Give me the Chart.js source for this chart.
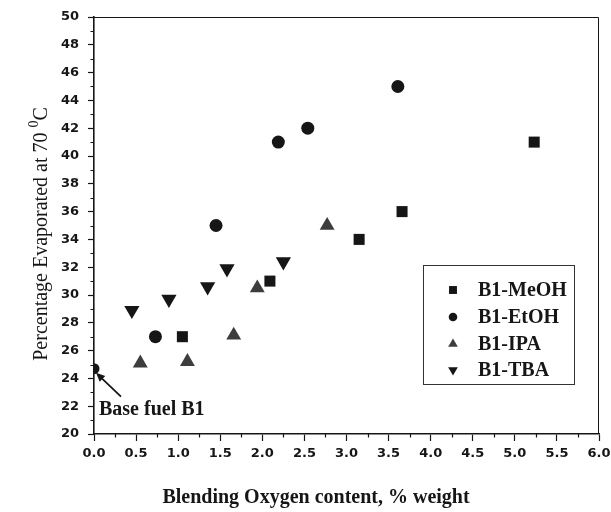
<!DOCTYPE html>
<html>
<head>
<meta charset="utf-8">
<script src="https://cdn.jsdelivr.net/npm/chart.js@4.4.1/dist/chart.umd.min.js"></script>
<style>
  html, body { margin: 0; padding: 0; background: #fff; }
  #chart { display: block; }
</style>
</head>
<body>
<canvas id="chart" width="611" height="512"></canvas>
<script>
// values
const seriesNames = ['B1-MeOH', 'B1-EtOH', 'B1-IPA', 'B1-TBA'];

const meohX = [1.05, 2.09, 3.15, 3.66, 5.23];
const meohY = [27.0, 31.0, 34.0, 36.0, 41.0];

const etohX = [0.73, 1.45, 2.19, 2.54, 3.61];
const etohY = [27.0, 35.0, 41.0, 42.0, 45.0];

const ipaX = [0.55, 1.11, 1.66, 1.94, 2.77];
const ipaY = [25.1, 25.2, 27.1, 30.5, 35.0];

const tbaX = [0.45, 0.89, 1.35, 1.58, 2.25];
const tbaY = [28.9, 29.7, 30.6, 31.9, 32.4];

const baseX = [0.0];
const baseY = [24.7];
const baseLabel = 'Base fuel B1';

const xTitle = 'Blending Oxygen content, % weight';
const yTitle = 'Percentage Evaporated at 70 ';
const yTitleSup = '0';
const yTitleEnd = 'C';

function toPoints(xs, ys) {
    return xs.map((x, i) => ({ x: x, y: ys[i] }));
}

const ink = '#161616';
const tickFont = { family: '"DejaVu Sans", sans-serif', size: 13, weight: 'bold' };

function drawMarker(ctx, style, radius, rotation, x, y) {
    if (Chart.helpers && Chart.helpers.drawPoint) {
        Chart.helpers.drawPoint(ctx, { pointStyle: style, radius: radius, rotation: rotation, borderWidth: 0 }, x, y);
    }
}

// frame, minor ticks, titles, legend box and the base fuel note
const decorPlugin = {
    id: 'decor',
    afterDraw(chart) {
        const ctx = chart.ctx;
        const area = chart.chartArea;
        const xs = chart.scales.x;
        const ys = chart.scales.y;
        ctx.save();

        // top and right frame
        ctx.strokeStyle = ink;
        ctx.lineWidth = 1;
        ctx.beginPath();
        ctx.moveTo(area.left, area.top + 0.5);
        ctx.lineTo(area.right - 0.5, area.top + 0.5);
        ctx.lineTo(area.right - 0.5, area.bottom);
        ctx.stroke();

        // minor ticks
        ctx.lineWidth = 1.2;
        ctx.beginPath();
        for (let v = 0.25; v < 6; v += 0.5) {
            const px = Math.round(xs.getPixelForValue(v)) + 0.5;
            ctx.moveTo(px, area.bottom);
            ctx.lineTo(px, area.bottom + 3.5);
        }
        for (let v = 21; v < 50; v += 2) {
            const py = Math.round(ys.getPixelForValue(v)) + 0.5;
            ctx.moveTo(area.left, py);
            ctx.lineTo(area.left - 3.5, py);
        }
        ctx.stroke();

        // x title
        ctx.fillStyle = ink;
        ctx.font = 'bold 20px "Liberation Serif", "Times New Roman", serif';
        ctx.textAlign = 'center';
        ctx.textBaseline = 'alphabetic';
        ctx.fillText(xTitle, 316, 503);

        // y title with raised 0
        const mainFont = '20px "Liberation Serif", "Times New Roman", serif';
        const supFont = '14px "Liberation Serif", "Times New Roman", serif';
        ctx.font = mainFont;
        const w1 = ctx.measureText(yTitle).width;
        const w3 = ctx.measureText(yTitleEnd).width;
        ctx.font = supFont;
        const w2 = ctx.measureText(yTitleSup).width;
        const total = w1 + w2 + w3;
        ctx.translate(47, 234);
        ctx.rotate(-Math.PI / 2);
        ctx.textAlign = 'left';
        ctx.font = mainFont;
        ctx.fillText(yTitle, -total / 2, 0);
        ctx.font = supFont;
        ctx.fillText(yTitleSup, -total / 2 + w1, -9);
        ctx.font = mainFont;
        ctx.fillText(yTitleEnd, -total / 2 + w1 + w2, 0);
        ctx.setTransform(1, 0, 0, 1, 0, 0);

        // legend box
        const box = { left: 423, top: 265, right: 574, bottom: 384 };
        ctx.strokeStyle = '#333';
        ctx.lineWidth = 1;
        ctx.strokeRect(box.left + 0.5, box.top + 0.5, box.right - box.left, box.bottom - box.top);
        const legendSizes = [5.6, 4.3, 5.6, 5.6];
        const rowY = [290, 317, 344, 370];
        ctx.font = 'bold 20px "Liberation Serif", "Times New Roman", serif';
        ctx.textBaseline = 'middle';
        ctx.textAlign = 'left';
        seriesNames.forEach((name, i) => {
            const ds = chart.data.datasets[i];
            ctx.fillStyle = ds.backgroundColor;
            ctx.strokeStyle = ds.backgroundColor;
            drawMarker(ctx, ds.pointStyle, legendSizes[i], ds.rotation || 0, 453, rowY[i]);
            ctx.fillStyle = ink;
            ctx.fillText(name, 478, rowY[i] + 1);
        });

        // base fuel note with arrow
        const bx = xs.getPixelForValue(baseX[0]);
        const by = ys.getPixelForValue(baseY[0]);
        const tip = { x: bx + 2, y: by + 4 };
        const tail = { x: bx + 27, y: by + 28 };
        ctx.strokeStyle = ink;
        ctx.lineWidth = 1.8;
        ctx.beginPath();
        ctx.moveTo(tail.x, tail.y);
        ctx.lineTo(tip.x + 4, tip.y + 4);
        ctx.stroke();
        const ang = Math.atan2(tip.y - tail.y, tip.x - tail.x);
        ctx.fillStyle = ink;
        ctx.beginPath();
        ctx.moveTo(tip.x, tip.y);
        ctx.lineTo(tip.x - 9 * Math.cos(ang) + 4 * Math.sin(ang), tip.y - 9 * Math.sin(ang) - 4 * Math.cos(ang));
        ctx.lineTo(tip.x - 9 * Math.cos(ang) - 4 * Math.sin(ang), tip.y - 9 * Math.sin(ang) + 4 * Math.cos(ang));
        ctx.closePath();
        ctx.fill();
        ctx.textBaseline = 'middle';
        ctx.fillText(baseLabel, bx + 5, by + 41);

        ctx.restore();
    }
};

new Chart(document.getElementById('chart'), {
    type: 'scatter',
    data: {
        datasets: [
            {
                label: seriesNames[0],
                data: toPoints(meohX, meohY),
                pointStyle: 'rect',
                pointRadius: 7.8,
                backgroundColor: ink,
                borderColor: ink,
                borderWidth: 0
            },
            {
                label: seriesNames[1],
                data: toPoints(etohX, etohY),
                pointStyle: 'circle',
                pointRadius: 6.5,
                backgroundColor: ink,
                borderColor: ink,
                borderWidth: 0
            },
            {
                label: seriesNames[2],
                data: toPoints(ipaX, ipaY),
                pointStyle: 'triangle',
                pointRadius: 8.6,
                backgroundColor: '#3d3d3d',
                borderColor: '#3d3d3d',
                borderWidth: 0
            },
            {
                label: seriesNames[3],
                data: toPoints(tbaX, tbaY),
                pointStyle: 'triangle',
                rotation: 180,
                pointRotation: 180,
                pointRadius: 8.8,
                backgroundColor: ink,
                borderColor: ink,
                borderWidth: 0
            },
            {
                label: baseLabel,
                data: toPoints(baseX, baseY),
                pointStyle: 'circle',
                pointRadius: 5.5,
                backgroundColor: ink,
                borderColor: ink,
                borderWidth: 0
            }
        ]
    },
    options: {
        responsive: false,
        devicePixelRatio: 1,
        animation: false,
        events: [],
        layout: { padding: { top: 17, right: 12, left: 0, bottom: 0 } },
        plugins: {
            legend: { display: false },
            tooltip: { enabled: false }
        },
        scales: {
            x: {
                type: 'linear',
                min: 0,
                max: 6,
                border: { color: ink, width: 1.6 },
                grid: { drawOnChartArea: false, tickLength: 7, tickColor: ink, tickWidth: 1.2 },
                ticks: {
                    stepSize: 0.5,
                    padding: 5,
                    color: ink,
                    font: tickFont,
                    maxRotation: 0,
                    callback: (v) => Number(v).toFixed(1)
                },
                afterFit: (s) => { s.height = 78; s.paddingRight = 0; s.paddingLeft = 0; }
            },
            y: {
                type: 'linear',
                min: 20,
                max: 50,
                border: { color: ink, width: 1.6 },
                grid: { drawOnChartArea: false, tickLength: 6, tickColor: ink, tickWidth: 1.2 },
                ticks: {
                    stepSize: 2,
                    padding: 9,
                    color: ink,
                    font: tickFont
                },
                afterFit: (s) => { s.width = 94; s.paddingTop = 0; s.paddingBottom = 0; }
            }
        }
    },
    plugins: [decorPlugin]
});
</script>
</body>
</html>
